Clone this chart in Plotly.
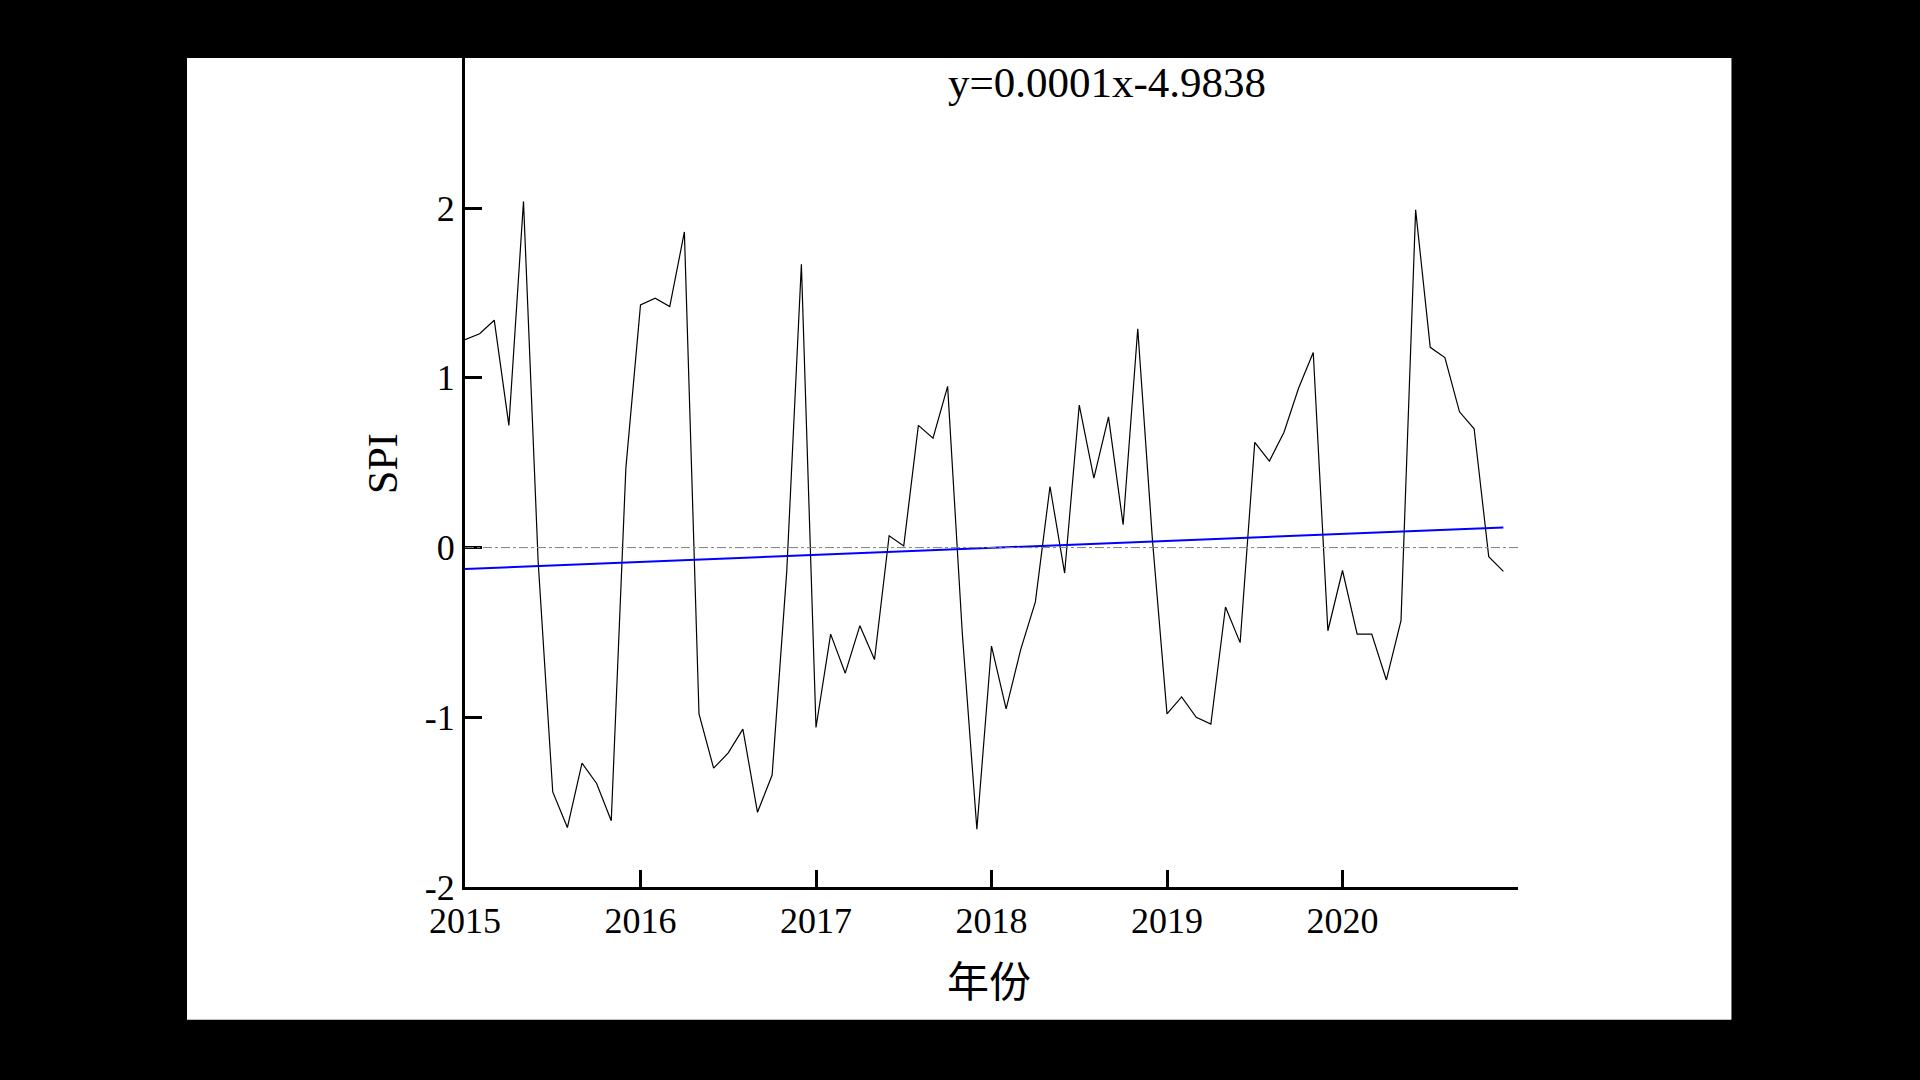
import numpy as np
import plotly.graph_objects as go

# ---- data ----
years = [2015, 2016, 2017, 2018, 2019, 2020]
tick_labels = ["2015", "2016", "2017", "2018", "2019", "2020"]
spi_2015 = [1.225, 1.26, 1.34, 0.72, 2.04, -0.08, -1.44, -1.65, -1.27, -1.39, -1.61, 0.47]
spi_2016 = [1.43, 1.47, 1.42, 1.86, -0.98, -1.30, -1.21, -1.07, -1.56, -1.34, -0.14, 1.67]
spi_2017 = [-1.06, -0.51, -0.74, -0.46, -0.66, 0.07, 0.01, 0.72, 0.645, 0.95, -0.5, -1.66]
spi_2018 = [-0.58, -0.95, -0.6, -0.32, 0.36, -0.15, 0.84, 0.41, 0.77, 0.135, 1.29, 0.05]
spi_2019 = [-0.98, -0.88, -1.0, -1.04, -0.35, -0.56, 0.62, 0.51, 0.68, 0.94, 1.15, -0.49]
spi_2020 = [-0.135, -0.51, -0.51, -0.78, -0.43, 1.99, 1.18, 1.12, 0.80, 0.70, -0.054, -0.14]
equation_text = "y=0.0001x-4.9838"
x_title = "年份"
y_title = "SPI"

spi = spi_2015 + spi_2016 + spi_2017 + spi_2018 + spi_2019 + spi_2020
x = [y + m / 12 for y in years for m in range(12)]

# linear trend
coef = np.polyfit(x, spi, 1)
trend = np.polyval(coef, [x[0], x[-1]])

serif = "Liberation Serif, Times New Roman, serif"
cjk = "Liberation Serif, Noto Sans CJK SC, serif"

fig = go.Figure()
fig.add_trace(go.Scatter(x=x, y=spi, mode="lines",
                         line=dict(color="black", width=1.2), showlegend=False))
fig.add_trace(go.Scatter(x=[x[0], x[-1]], y=list(trend), mode="lines",
                         line=dict(color="rgb(0,0,255)", width=2), showlegend=False))

# white panel behind the chart
fig.add_shape(type="rect", xref="paper", yref="paper",
              x0=-0.264, x1=1.2027, y0=-0.160, y1=1.0,
              fillcolor="white", line=dict(width=0), layer="below")
# zero reference line
fig.add_shape(type="line", xref="paper", yref="y", x0=0, x1=1, y0=0, y1=0,
              line=dict(color="gray", width=1, dash="dashdot"))

fig.add_annotation(text=equation_text, xref="paper", yref="paper", x=0.6097, y=0.970,
                   xanchor="center", yanchor="middle", showarrow=False,
                   font=dict(family=serif, size=43, color="black"))
fig.add_annotation(text=y_title, xref="paper", yref="paper", x=-0.0779, y=0.5115,
                   xanchor="center", yanchor="middle", showarrow=False, textangle=-90,
                   font=dict(family=serif, size=42, color="black"))
fig.add_annotation(text=x_title, xref="paper", yref="paper", x=0.498, y=-0.116,
                   xanchor="center", yanchor="middle", showarrow=False,
                   font=dict(family=cjk, size=42, color="black"))

fig.update_layout(
    width=1920, height=1080,
    margin=dict(l=465, r=402, t=58, b=193, pad=0),
    paper_bgcolor="black", plot_bgcolor="white",
    showlegend=False,
    xaxis=dict(range=[2015, 2021], tickvals=years, ticktext=tick_labels,
               ticks="inside", ticklen=17, tickwidth=3, tickcolor="black",
               showline=True, linewidth=3, linecolor="black",
               showgrid=False, zeroline=False,
               tickfont=dict(family=serif, size=36, color="black")),
    yaxis=dict(range=[-2, 2.885], tickvals=[-2, -1, 0, 1, 2],
               ticktext=["-2", "-1", "0", "1", "2"],
               ticks="inside", ticklen=17, tickwidth=3, tickcolor="black",
               showline=True, linewidth=3, linecolor="black",
               showgrid=False, zeroline=False,
               tickfont=dict(family=serif, size=36, color="black")),
)

fig.write_html("out.html")
